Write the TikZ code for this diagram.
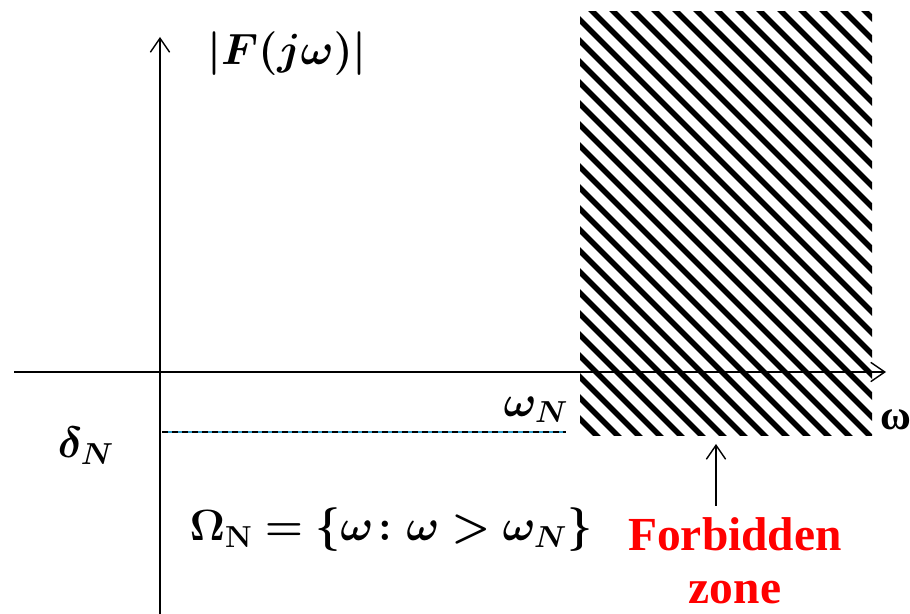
\documentclass[tikz,border=0pt]{standalone}
\usepackage[no-math]{fontspec}
\setmainfont{Liberation Serif}
\usepackage{amsmath,bm}
\usetikzlibrary{arrows.meta}
\tikzset{
	lbl/.style={inner sep=0pt, font=\fontsize{24}{28}\selectfont},
	zonetxt/.style={inner sep=0pt, text=red, font=\fontsize{27}{31}\selectfont\bfseries, align=center}
}
\begin{document}
\begin{tikzpicture}[line join=round, >={Straight Barb[length=8pt,width=11pt]}]
	\begin{scope}[x=0.02cm,y=-0.02cm]
		\useasboundingbox (0,0) rectangle (910,614);
		\path (160,614)coordinate(Yb)(160,37)coordinate(Yt)(14,372)coordinate(Xl)(886,372)coordinate(Xr)
		(580,12)coordinate(Z1)(872,436)coordinate(Z2)(162,432)coordinate(Dl)(566,432)coordinate(Dr)
		(716,444)coordinate(Zb)(716,506)coordinate(Za);
		% forbidden zone
		\begin{scope}
			\clip(Z1)rectangle(Z2);
			\foreach \c in{140,161,...,880}
			\draw[line width=3.2pt](\c,0)--(\c+460,460);
		\end{scope}
		% axes
		\draw[->,line width=0.8pt](Xl)--(Xr);
		\draw[->,line width=0.8pt](Yb)--(Yt);
		\draw[cyan!60!teal,line width=0.6pt](Dl)--(Dr);
		\draw[dash pattern=on 3.4pt off 2.3pt,line width=0.8pt](Dl)--(Dr);
		% labels
		\node[lbl](F) at (287,54){$\bm{|F(j\omega)|}$};
		\node[lbl](wN) at (536,410){$\bm{\omega_N}$};
		\node[lbl](dN) at (86,446){$\bm{\delta_N}$};
		\node[lbl](w) at (896,420){\textbf{ω}};
		\node[lbl](Om) at (391,530){$\bm{\Omega}_{\mathbf{N}} \bm{=} \bm{\{\omega\colon \omega > \omega_N\}}$};
		\node[zonetxt](fz) at (735,561){Forbidden\\[-1pt]zone};
		\draw[->,line width=0.8pt](Za)--(Zb);
	\end{scope}
\end{tikzpicture}
\end{document}
